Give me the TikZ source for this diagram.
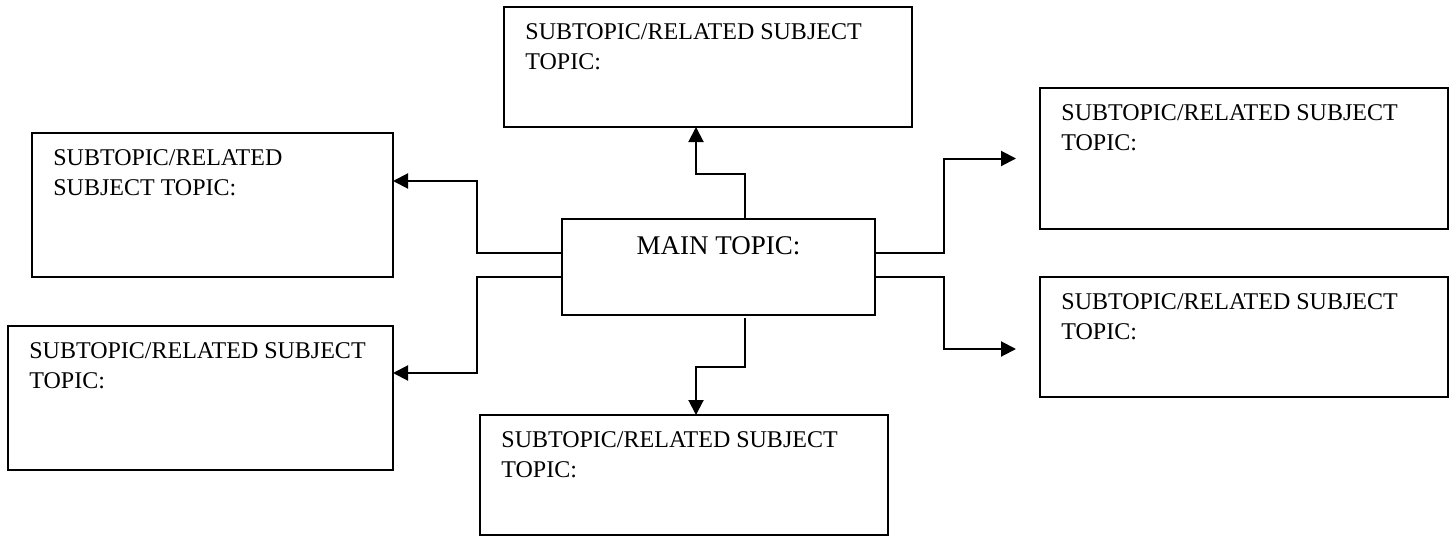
\documentclass[tikz,border=0pt]{standalone}
\usepackage{fontspec}
\setmainfont{Liberation Serif}
\usetikzlibrary{arrows.meta}
\begin{document}
\begin{tikzpicture}[x=0.5pt,y=-0.5pt,
    topicbox/.style={rectangle,draw,line width=1pt,anchor=north west,outer sep=0pt,inner sep=0pt},
    boxtext/.style={anchor=north west,inner sep=0pt,align=left,font=\fontsize{12}{15}\selectfont},
    conn/.style={draw,line width=1pt,-{Triangle[length=7.5pt,width=7.5pt]}}]
    \useasboundingbox (0,0) rectangle (1450,536);
    % boxes
    \node (main) at (562,219) [topicbox,minimum width=156.5pt,minimum height=48pt] {};
    \node (tbox) at (504,7) [topicbox,minimum width=204pt,minimum height=60pt] {};
    \node (lup) at (32,133) [topicbox,minimum width=180.5pt,minimum height=72pt] {};
    \node (llow) at (8,326) [topicbox,minimum width=192.5pt,minimum height=72pt] {};
    \node (bbox) at (480,415) [topicbox,minimum width=204pt,minimum height=60pt] {};
    \node (rup) at (1040,88) [topicbox,minimum width=204pt,minimum height=70.5pt] {};
    \node (rlow) at (1040,277) [topicbox,minimum width=204pt,minimum height=60pt] {};
    % texts
    \node (maintext) at ([yshift=-8.5pt]main.north) [boxtext,anchor=north,font=\fontsize{13.5}{16}\selectfont] {MAIN TOPIC:};
    \node (tboxtext) at ([shift={(10.5pt,-8pt)}]tbox.north west) [boxtext] {SUBTOPIC/RELATED SUBJECT\\TOPIC:};
    \node (luptext) at ([shift={(10.5pt,-8pt)}]lup.north west) [boxtext] {SUBTOPIC/RELATED\\SUBJECT TOPIC:};
    \node (llowtext) at ([shift={(10.5pt,-8pt)}]llow.north west) [boxtext] {SUBTOPIC/RELATED SUBJECT\\TOPIC:};
    \node (bboxtext) at ([shift={(10.5pt,-8pt)}]bbox.north west) [boxtext] {SUBTOPIC/RELATED SUBJECT\\TOPIC:};
    \node (ruptext) at ([shift={(10.5pt,-8pt)}]rup.north west) [boxtext] {SUBTOPIC/RELATED SUBJECT\\TOPIC:};
    \node (rlowtext) at ([shift={(10.5pt,-8pt)}]rlow.north west) [boxtext] {SUBTOPIC/RELATED SUBJECT\\TOPIC:};
    % connectors
    \draw[conn] ([xshift=13pt]main.north) -- ++(0,-45) -| ([xshift=-6pt]tbox.south);
    \draw[conn] ([xshift=13pt,yshift=-1.5pt]main.south) -- ++(0,49) -| ([xshift=6pt]bbox.north);
    \draw[conn] ([yshift=7pt]main.west) -- ++(-85,0) |- ([yshift=12pt]lup.east);
    \draw[conn] ([yshift=-5pt]main.west) -- ++(-85,0) |- ([yshift=12.5pt]llow.east);
    \draw[conn,shorten >=12pt] ([yshift=7pt]main.east) -- ++(69,0) |- (rup.west);
    \draw[conn,shorten >=12pt] ([yshift=-5pt]main.east) -- ++(69,0) |- ([yshift=-6pt]rlow.west);
\end{tikzpicture}
\end{document}
